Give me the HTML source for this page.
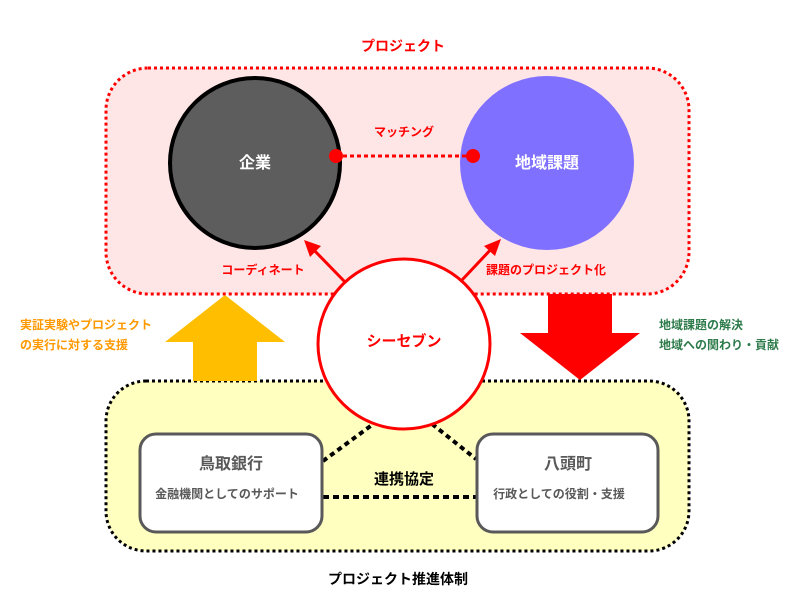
<!DOCTYPE html>
<html><head><meta charset="utf-8"><style>
html,body{margin:0;padding:0;background:#fff;}
svg{display:block;}
text{font-family:"Liberation Sans","Noto Sans CJK JP",sans-serif;font-weight:bold;}
</style></head><body>
<svg width="804" height="613" viewBox="0 0 804 613" xmlns="http://www.w3.org/2000/svg">
<text x="403" y="51" font-size="14" fill="#ff0000" text-anchor="middle">プロジェクト</text>
<rect x="106" y="68" width="583" height="226" rx="42" fill="#ffe6e6" stroke="#ff0000" stroke-width="3" stroke-dasharray="3,3"/>
<rect x="106" y="381" width="583" height="170" rx="40" fill="#ffffc0" stroke="#000" stroke-width="3" stroke-dasharray="3,3"/>
<polygon points="225,295 285,342 257,342 257,381 193,381 193,342 165,342" fill="#ffbf00"/>
<polygon points="548,294 612,294 612,333 640,333 580,380 520,333 548,333" fill="#ff0000"/>
<ellipse cx="255" cy="163" rx="85" ry="85" fill="#5d5d5d" stroke="#000" stroke-width="4"/>
<ellipse cx="547" cy="163" rx="87" ry="87" fill="#8070ff"/>
<text x="255" y="164" font-size="16" fill="#fff" text-anchor="middle" dominant-baseline="middle">企業</text>
<text x="547" y="164" font-size="16" fill="#fff" text-anchor="middle" dominant-baseline="middle">地域課題</text>
<line x1="336" y1="156" x2="473" y2="156" stroke="#ff0000" stroke-width="3" stroke-dasharray="4,3"/>
<circle cx="336" cy="156" r="7" fill="#ff0000"/>
<circle cx="473" cy="156" r="7" fill="#ff0000"/>
<text x="404" y="136" font-size="12" fill="#ff0000" text-anchor="middle">マッチング</text>
<line x1="345" y1="282" x2="310" y2="246" stroke="#ff0000" stroke-width="3"/>
<polygon points="304,240 321,246 310,257" fill="#ff0000"/>
<line x1="462" y1="280" x2="495" y2="245" stroke="#ff0000" stroke-width="3"/>
<polygon points="501,239 495,256 484,246" fill="#ff0000"/>
<text x="263" y="274" font-size="12" fill="#ff0000" text-anchor="middle">コーディネート</text>
<text x="546" y="274" font-size="12" fill="#ff0000" text-anchor="middle">課題のプロジェクト化</text>
<line x1="323" y1="461" x2="376" y2="422" stroke="#000" stroke-width="4" stroke-dasharray="5,4"/>
<line x1="432" y1="424" x2="476" y2="459" stroke="#000" stroke-width="4" stroke-dasharray="5,4"/>
<ellipse cx="404" cy="344" rx="86" ry="85" fill="#fff" stroke="#ff0000" stroke-width="3"/>
<text x="404" y="346" font-size="15" fill="#ff0000" text-anchor="middle">シーセブン</text>
<text x="20" y="329" font-size="12" fill="#ff9900">実証実験やプロジェクト</text>
<text x="20" y="349" font-size="12" fill="#ff9900">の実行に対する支援</text>
<text x="659" y="329" font-size="12" fill="#2d7a4a">地域課題の解決</text>
<text x="659" y="349" font-size="12" fill="#2d7a4a">地域への関わり・貢献</text>
<line x1="323" y1="497" x2="476" y2="497" stroke="#000" stroke-width="4" stroke-dasharray="6,4"/>
<text x="404" y="484" font-size="15" fill="#000" text-anchor="middle">連携協定</text>
<rect x="140" y="434" width="182" height="98" rx="16" fill="#fff" stroke="#595959" stroke-width="3"/>
<rect x="477" y="434" width="181" height="98" rx="16" fill="#fff" stroke="#595959" stroke-width="3"/>
<text x="231" y="469" font-size="16" fill="#595959" text-anchor="middle">鳥取銀行</text>
<text x="227" y="498" font-size="12" fill="#595959" text-anchor="middle">金融機関としてのサポート</text>
<text x="568" y="469" font-size="16" fill="#595959" text-anchor="middle">八頭町</text>
<text x="559" y="498" font-size="12" fill="#595959" text-anchor="middle">行政としての役割・支援</text>
<text x="398" y="584" font-size="14" fill="#000" text-anchor="middle">プロジェクト推進体制</text>
</svg>
</body></html>
